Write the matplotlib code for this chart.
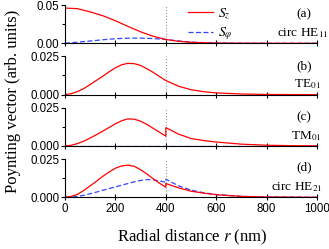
import numpy as np
import matplotlib.pyplot as plt

plt.rcParams['font.family'] = 'Liberation Sans'
plt.rcParams['mathtext.fontset'] = 'stix'

# (a) circ HE11
r_a = [0, 50, 100, 150, 200, 250, 300, 350, 400, 450, 500, 550, 600, 700, 800, 900, 1000]
sz_a = [0.046, 0.0452, 0.041, 0.036, 0.0295, 0.022, 0.015, 0.0092, 0.005, 0.0026,
        0.0013, 0.0007, 0.0003, 0.0001, 0.0, 0.0, 0.0]
sp_a = [0.0, 0.0015, 0.003, 0.0046, 0.006, 0.0067, 0.0068, 0.0062, 0.005, 0.0031,
        0.0016, 0.0008, 0.0004, 0.0001, 0.0, 0.0, 0.0]

# (b) TE01
r_b = [0, 25, 50, 75, 100, 125, 150, 175, 200, 225, 250, 275, 300, 325, 350, 375, 400,
       450, 500, 550, 600, 700, 800, 900, 1000]
sz_b = [0.0, 0.0006, 0.002, 0.004, 0.0066, 0.0093, 0.012, 0.0149, 0.0175, 0.0195,
        0.0204, 0.0202, 0.019, 0.0169, 0.0145, 0.0118, 0.0092, 0.0055, 0.0032, 0.0019,
        0.0011, 0.0004, 0.0001, 0.0, 0.0]

# (c) TM01
r_c = [0, 25, 50, 75, 100, 125, 150, 175, 200, 225, 250, 275, 300, 325, 350, 375, 400,
       400, 450, 500, 550, 600, 700, 800, 900, 1000]
sz_c = [0.0, 0.0005, 0.0016, 0.0032, 0.0052, 0.0074, 0.0097, 0.0121, 0.0145, 0.0165,
        0.0177, 0.0175, 0.0162, 0.0141, 0.0115, 0.009, 0.0064,
        0.012, 0.0078, 0.0049, 0.0036, 0.0026, 0.0012, 0.0005, 0.0002, 0.0001]
sp_c = [0.0] * len(r_c)

# (d) circ HE21
r_d = r_c
sz_d = [0.0, 0.0006, 0.002, 0.0045, 0.0075, 0.0105, 0.0137, 0.0165, 0.019, 0.0205,
        0.021, 0.0202, 0.018, 0.0152, 0.0121, 0.0092, 0.0066,
        0.009, 0.0062, 0.004, 0.0027, 0.0017, 0.0006, 0.0002, 0.0001, 0.0]
sp_d = [0.0, 0.0002, 0.0006, 0.0013, 0.0023, 0.0034, 0.0046, 0.0057, 0.0068, 0.0079,
        0.009, 0.0101, 0.011, 0.0116, 0.0114, 0.0107, 0.0098,
        0.0118, 0.0075, 0.0047, 0.003, 0.0018, 0.0006, 0.0002, 0.0001, 0.0]

tags = ['(a)', '(b)', '(c)', '(d)']
modes = ['circ HE$_{11}$', 'TE$_{01}$', 'TM$_{01}$', 'circ HE$_{21}$']
ymaxs = [0.05, 0.025, 0.025, 0.025]

W, H = 329, 249
fig = plt.figure(figsize=(W / 100, H / 100), dpi=100)
tops = [5, 56.3, 107.7, 159]
ph = 38.3

# text positions in pixels: (tag y, mode y, mode right x)
txt_pos = [(14, 33, 328), (66, 84, 321), (117, 136, 321), (167, 187, 322)]

data = [(r_a, sz_a, sp_a), (r_b, sz_b, None), (r_c, sz_c, sp_c), (r_d, sz_d, sp_d)]
axes = []
for i, (r, sz, sp) in enumerate(data):
    ymax = ymaxs[i]
    ax = fig.add_axes([65 / W, (H - tops[i] - ph) / H, 252 / W, ph / H])
    axes.append(ax)
    ax.axvline(400, color='#999999', ls=':', lw=0.8, zorder=0)
    if sp is not None:
        ax.plot(r, sp, color='#3344ff', ls=(0, (4, 2)), lw=0.9, label=r'$S_\varphi$')
    ax.plot(r, sz, color='#ff0000', lw=0.9, label=r'$S_z$')
    ax.set_xlim(0, 1000)
    ax.set_ylim(0, ymax)
    ax.set_yticks([0, ymax])
    if ymax == 0.05:
        ax.set_yticklabels(['0.00', '0.05'])
    else:
        ax.set_yticklabels(['0.000', '0.025'])
    ax.set_yticks([ymax / 2], minor=True)
    ax.set_xticks(np.arange(0, 1001, 200))
    ax.spines['top'].set_visible(False)
    ax.spines['right'].set_visible(False)
    for s in ('left', 'bottom'):
        ax.spines[s].set_linewidth(0.8)
    ax.tick_params(axis='y', direction='out', length=3, width=0.8, labelsize=8.3, pad=1)
    ax.tick_params(axis='y', which='minor', direction='out', length=2, width=0.8)
    ax.tick_params(axis='x', direction='inout', length=4, width=0.8, labelsize=8.3, pad=2)
    if i < 3:
        ax.tick_params(axis='x', labelbottom=False)
    ty, my, mx = txt_pos[i]
    fig.text(304 / W, (H - ty) / H, tags[i], ha='center', va='center',
             fontsize=9.5, family='Liberation Serif')
    fig.text(mx / W, (H - my) / H, modes[i], ha='right', va='center',
             fontsize=9.5, family='Liberation Serif')

h, l = axes[0].get_legend_handles_labels()
axes[0].legend(h[::-1], l[::-1], loc='upper left', bbox_to_anchor=(188 / W, (H - 6) / H),
               bbox_transform=fig.transFigure, frameon=False, fontsize=10,
               handlelength=1.8, handletextpad=0.35, labelspacing=0.3,
               borderpad=0, borderaxespad=0)

fig.text(13 / W, (H - 101) / H, 'Poynting vector (arb. units)', rotation=90,
         ha='center', va='center', fontsize=12, family='Liberation Serif')
fig.text(192 / W, (H - 237) / H, 'Radial distance $r$ (nm)', ha='center', va='center',
         fontsize=12, family='Liberation Serif')

fig.savefig('out.png', dpi=100)
